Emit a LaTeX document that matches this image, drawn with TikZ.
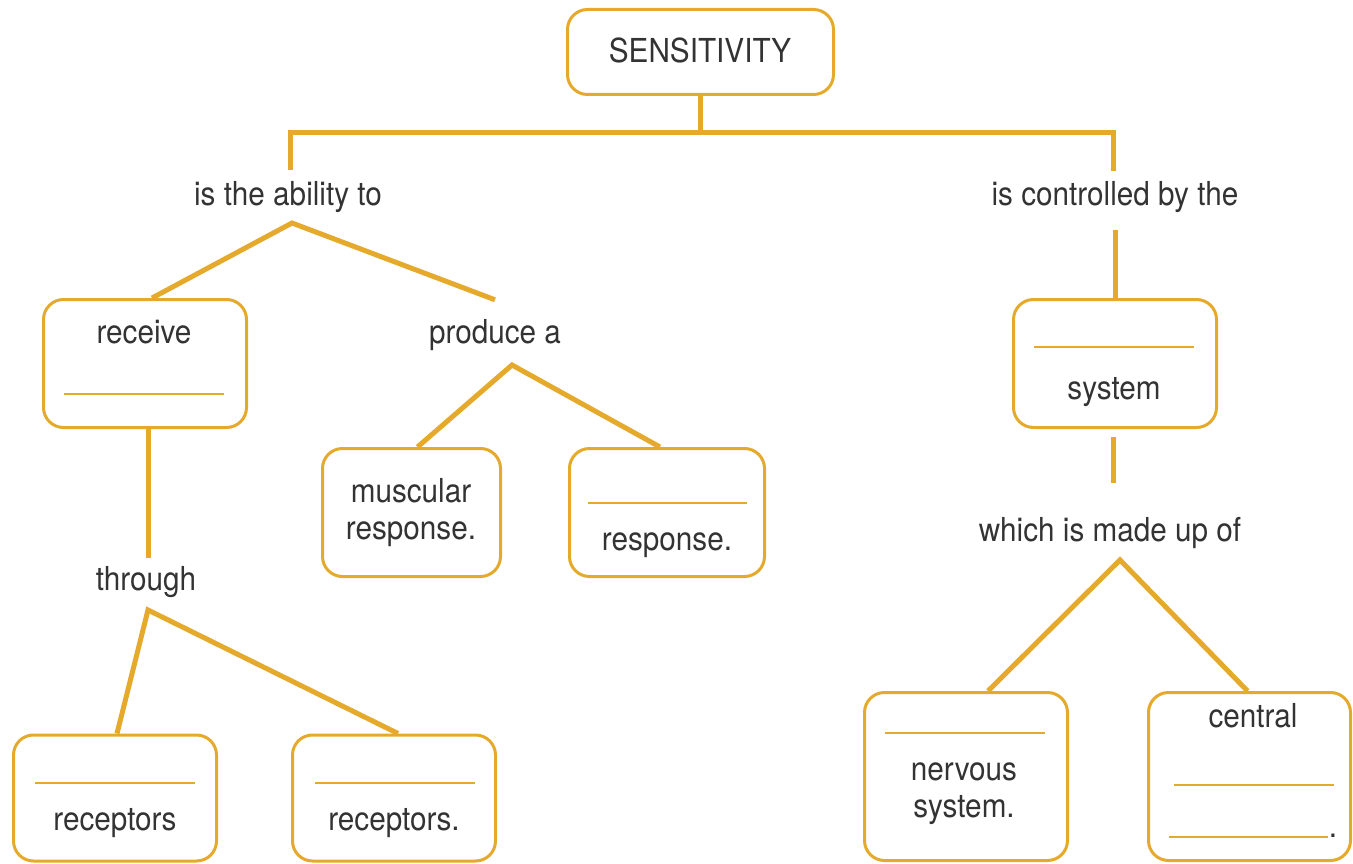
\documentclass[tikz,border=0pt]{standalone}
\usepackage{fontspec}
\setmainfont{TeX Gyre Heros}[FakeStretch=0.9]
\definecolor{gold}{HTML}{E5AA2B}
\definecolor{ink}{HTML}{333333}
\tikzset{
  box/.style={draw=gold,line width=3pt,rounded corners=20pt,minimum width=203pt,minimum height=128pt,inner sep=0pt},
  link/.style={draw=gold,line width=5pt},
  blank/.style={draw=gold,line width=1.5pt},
  word/.style={text=ink,font=\fontsize{33}{40}\selectfont,anchor=base,inner xsep=0pt,inner ysep=8pt,text height=24pt,text depth=7pt}
}
\begin{document}
\begin{tikzpicture}[x=1pt,y=-1pt,line join=miter,line cap=butt]
\useasboundingbox (0,0) rectangle (1353,864);
% boxes
\node[box,minimum width=266pt,minimum height=85pt] (sens) at (700.5,52) {};
\node[box] (receive) at (145,363.5) {};
\node[box,minimum width=178pt] (muscular) at (411.5,512.5) {};
\node[box,minimum width=195pt] (respBox) at (667,512.5) {};
\node[box,minimum height=126pt] (recA) at (115,798) {};
\node[box,minimum height=126pt] (recB) at (394,798) {};
\node[box] (system) at (1115,363.5) {};
\node[box,minimum height=168pt] (nervous) at (966,776.5) {};
\node[box,minimum width=202pt,minimum height=168pt] (central) at (1249.5,776.5) {};
% texts
\node[word] (sensTxt) at (700,63) {SENSITIVITY};
\node[word] (ability) at (288,205) {is the ability to};
\node[word] (controlled) at (1115,205) {is controlled by the};
\node[word] (receiveTxt) at (144,343) {receive};
\node[word] (produce) at (495,343) {produce a};
\node[word] (muscTxtA) at (411,502) {muscular};
\node[word] (muscTxtB) at (411,539) {response.};
\node[word] (respTxt) at (667,550) {response.};
\node[word] (through) at (146,590) {through};
\node[word] (recTxtA) at (115,830) {receptors};
\node[word] (recTxtB) at (394,830) {receptors.};
\node[word] (systemTxt) at (1114,399) {system};
\node[word] (which) at (1110,541) {which is made up of};
\node[word] (nervTxtA) at (964,780) {nervous};
\node[word] (nervTxtB) at (964,817) {system.};
\node[word] (centralTxt) at (1253,727) {central};
\node[word] (centralDot) at (1333,837) {.};
% blanks to fill in
\draw[blank] (64,394) -- (224,394);
\draw[blank] (588,503) -- (747,503);
\draw[blank] (35,783) -- (195,783);
\draw[blank] (315,783) -- (475,783);
\draw[blank] (1034,347) -- (1194,347);
\draw[blank] (885,733) -- (1045,733);
\draw[blank] (1174,785) -- (1334,785);
\draw[blank] (1169,837) -- (1328,837);
% forks
\coordinate (abilityFork) at (292,223);
\coordinate (produceFork) at (512,365);
\coordinate (throughFork) at (148,610);
\coordinate (whichFork) at (1120,560);
% connectors
\draw[link] (sens.south) -- ++(0,37) coordinate (barMid);
\draw[link] ([xshift=2pt,yshift=3pt]ability.north) |- (barMid) -| ([xshift=-2pt,yshift=2pt]controlled.north);
\draw[link] ([xshift=7pt]receive.north) -- (abilityFork) -- ([yshift=11pt]produce.north);
\draw[link] ([xshift=3pt]receive.south) -- ([xshift=2pt]through.north);
\draw[link] ([xshift=2pt]recA.north) -- (throughFork) -- ([xshift=4pt]recB.north);
\draw[link] ([xshift=6pt]muscular.north) -- (produceFork) -- ([xshift=-7pt]respBox.north);
\draw[link] ([yshift=-10pt]controlled.south) -- (system.north);
\draw[link] ([xshift=-2pt,yshift=-8pt]system.south) -- ([xshift=3pt,yshift=26pt]which.north);
\draw[link] ([xshift=22pt]nervous.north) -- (whichFork) -- ([xshift=-2pt]central.north);
\end{tikzpicture}
\end{document}
